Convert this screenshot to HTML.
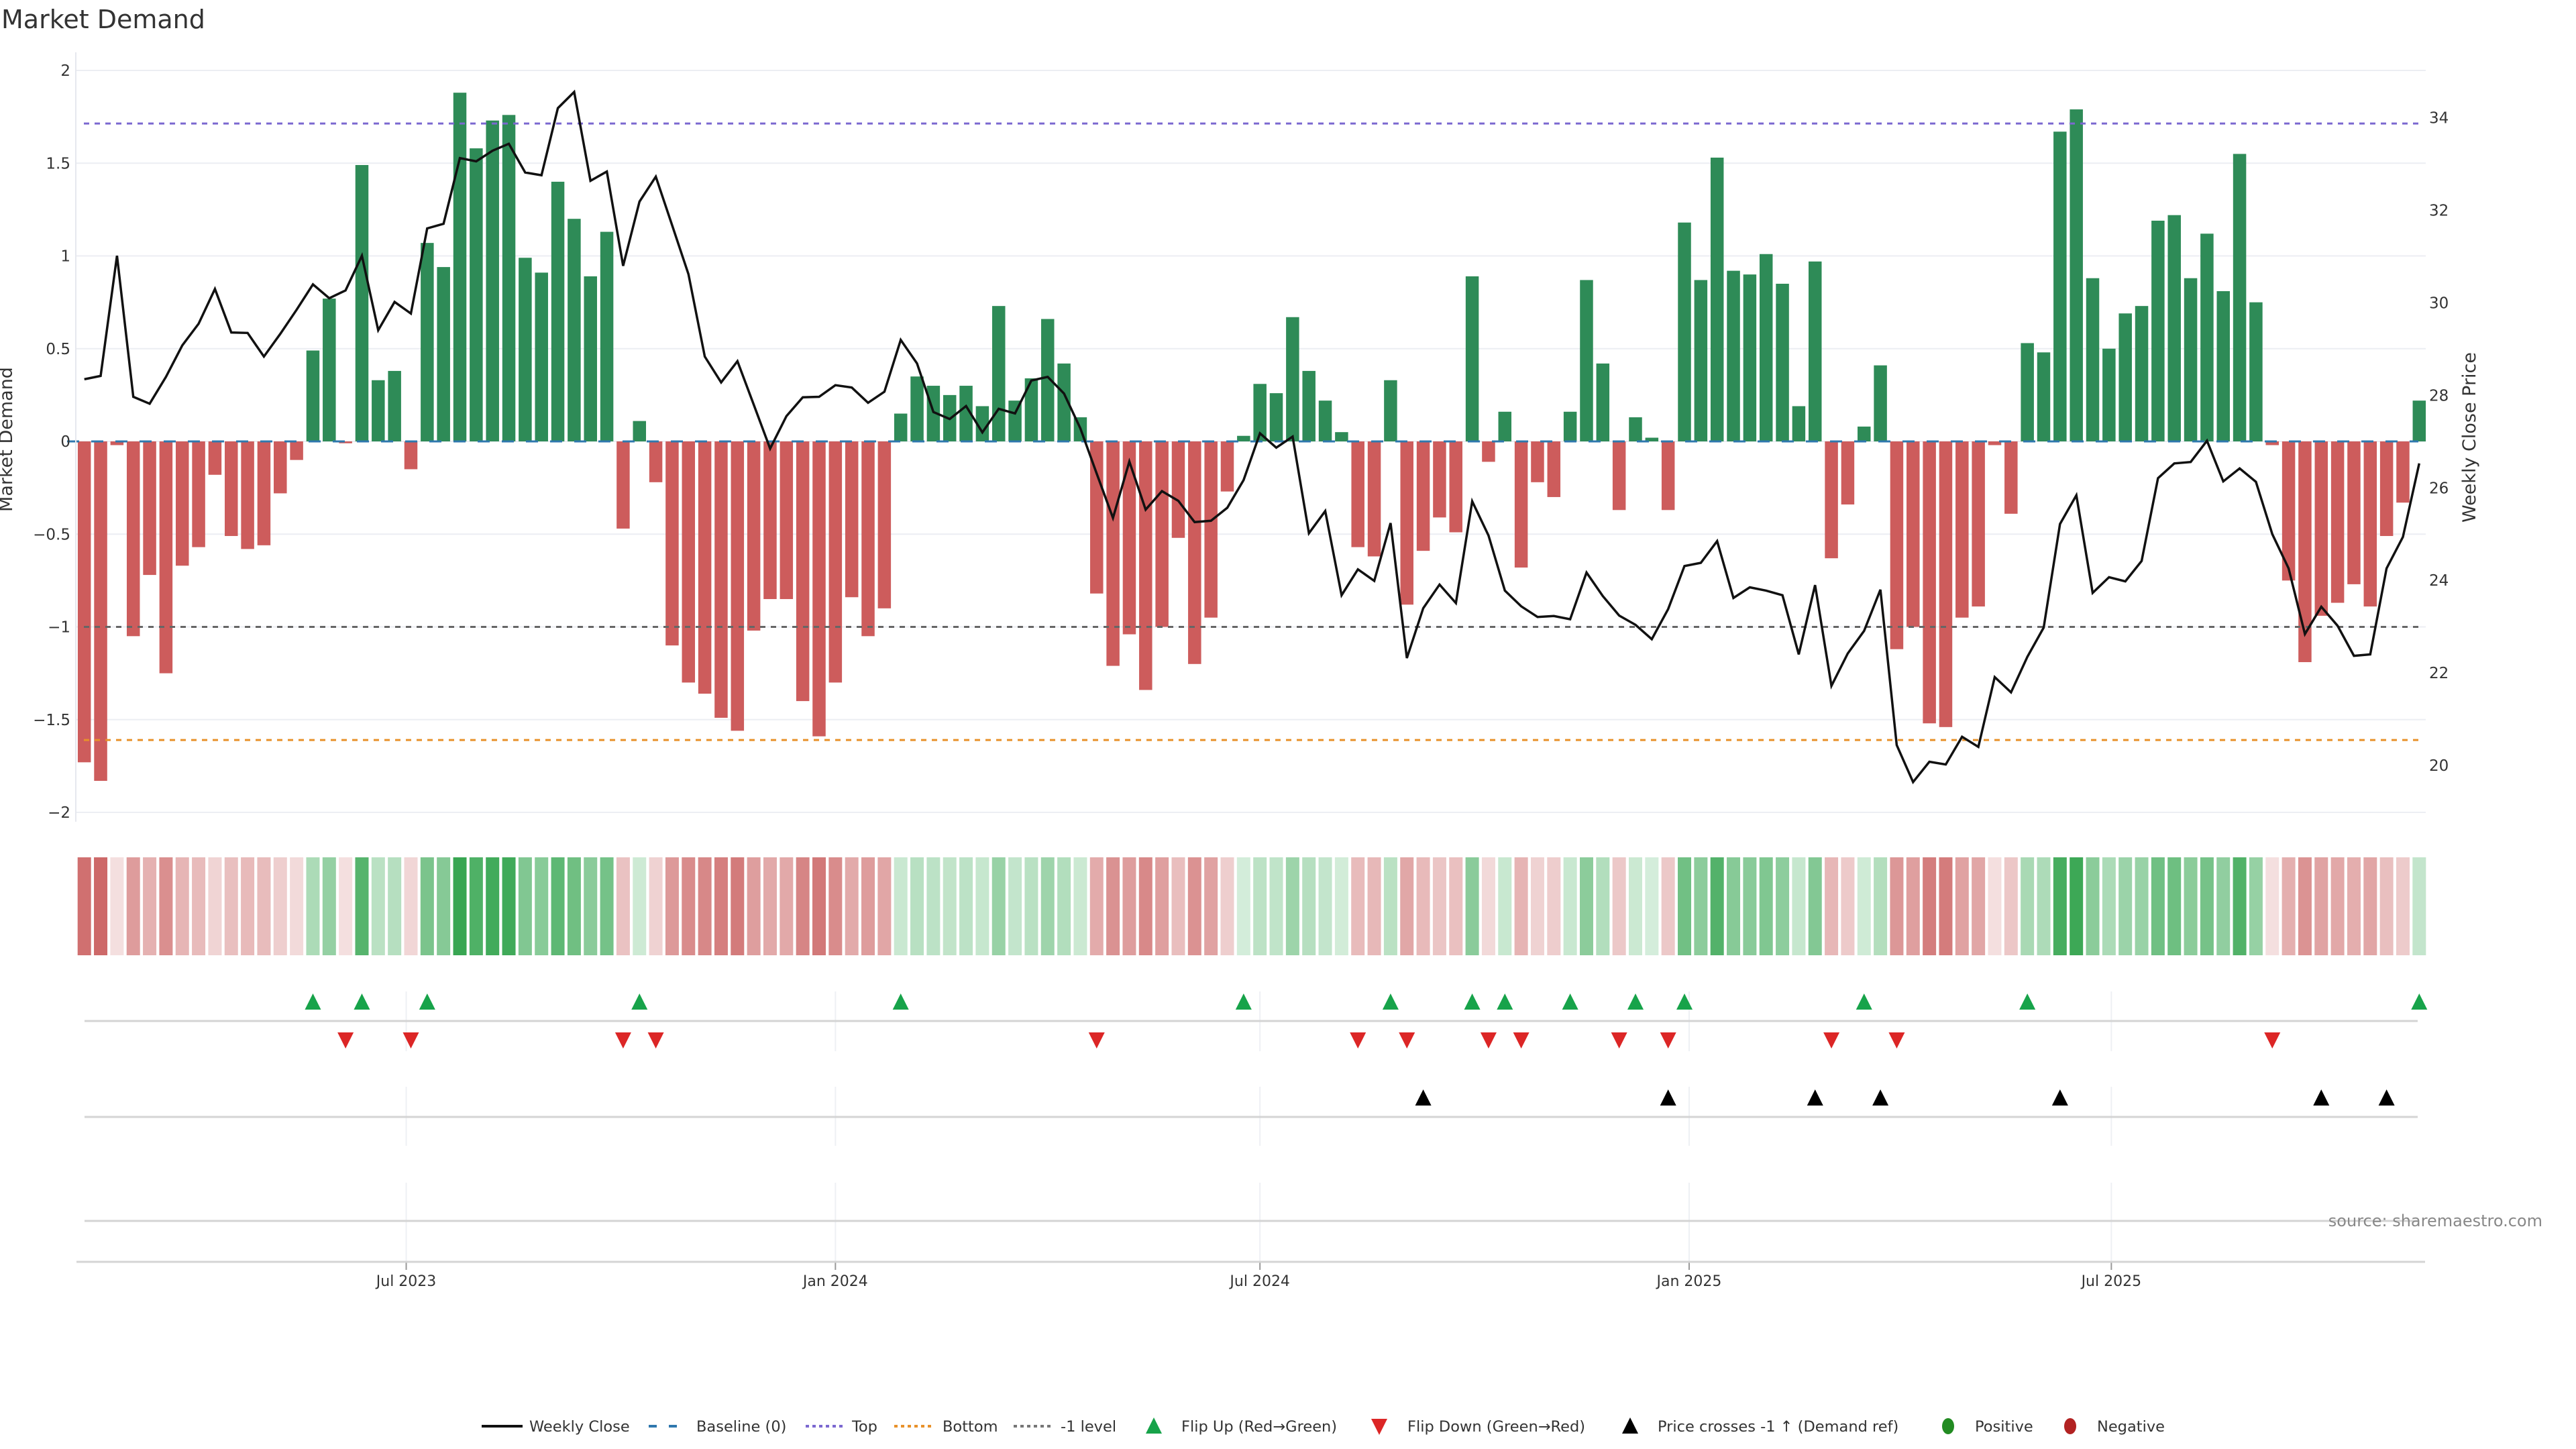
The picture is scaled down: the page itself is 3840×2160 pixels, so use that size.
<!DOCTYPE html>
<html><head><meta charset="utf-8"><title>Market Demand</title>
<style>
html,body{margin:0;padding:0;background:#fff;}
svg{display:block;font-family:"DejaVu Sans","Liberation Sans",sans-serif;}
</style></head>
<body>
<svg id="chart" width="3840" height="2160" viewBox="0 0 3840 2160" xmlns="http://www.w3.org/2000/svg">
<rect x="0" y="0" width="3840" height="2160" fill="#fff"/>
<text x="2" y="42" font-size="38" fill="#333">Market Demand</text>
<g id="grid"></g>
<g id="bars"></g>
<g id="refs"></g>
<g id="line"></g>
<g id="axes"></g>
<g id="strip"></g>
<g id="markers"></g>
<text x="18" y="655" font-size="27" fill="#333" text-anchor="middle" transform="rotate(-90 18 655)">Market Demand</text>
<text x="3690" y="652" font-size="27" fill="#333" text-anchor="middle" transform="rotate(-90 3690 652)">Weekly Close Price</text>
<text x="3790" y="1828" font-size="24" fill="#888" text-anchor="end">source: sharemaestro.com</text>
<g id="legend"></g>
</svg>
<script>
const demand = [-1.73,-1.83,-0.02,-1.05,-0.72,-1.25,-0.67,-0.57,-0.18,-0.51,-0.58,-0.56,-0.28,-0.10,
0.49,0.77,-0.01,1.49,0.33,0.38,-0.15,1.07,0.94,1.88,1.58,1.73,1.76,0.99,0.91,1.40,1.20,0.89,1.13,-0.47,0.11,-0.22,-1.10,-1.30,-1.36,
-1.49,-1.56,-1.02,-0.85,-0.85,-1.40,-1.59,-1.30,-0.84,-1.05,-0.90,0.15,0.35,0.30,0.25,0.30,0.19,0.73,0.22,0.34,0.66,0.42,0.13,-0.82,-1.21,-1.04,-1.34,-1.00,-0.52,-1.20,-0.95,-0.27,0.03,0.31,0.26,0.67,0.38,
0.22,0.05,-0.57,-0.62,0.33,-0.88,-0.59,-0.41,-0.49,0.89,-0.11,0.16,-0.68,-0.22,-0.30,0.16,0.87,0.42,-0.37,0.13,0.02,-0.37,1.18,0.87,1.53,0.92,0.90,1.01,0.85,0.19,0.97,-0.63,-0.34,0.08,0.41,-1.12,-1.00,
-1.52,-1.54,-0.95,-0.89,-0.02,-0.39,0.53,0.48,1.67,1.79,0.88,0.50,0.69,0.73,1.19,1.22,0.88,1.12,0.81,1.55,0.75,-0.02,-0.75,-1.19,-0.94,-0.87,-0.77,-0.89,-0.51,-0.33,0.22];
const price = [28.35,28.42,31.02,27.97,27.82,28.40,29.08,29.55,30.30,29.36,
29.35,28.84,29.33,29.85,30.40,30.10,30.27,31.02,29.41,30.02,
29.77,31.61,31.71,33.13,33.06,33.29,33.44,32.82,32.76,34.21,
34.56,32.64,32.84,30.80,32.19,32.73,31.68,30.62,28.84,
28.28,28.74,27.80,26.85,27.55,27.96,27.97,28.22,28.17,27.84,28.08,
29.20,28.69,27.64,27.49,27.77,27.20,27.71,27.61,28.32,28.40,28.04,27.29,
26.31,25.35,26.57,25.53,25.93,25.72,25.26,25.29,25.57,26.17,27.18,26.87,27.11,25.02,
25.50,23.68,24.24,23.99,25.24,22.32,23.40,23.91,23.51,25.71,24.97,23.78,23.44,23.21,23.23,23.16,24.17,23.66,23.24,23.04,22.73,23.38,24.31,24.38,24.85,23.62,23.85,23.78,23.68,22.40,23.90,21.72,22.42,22.91,23.80,20.44,19.64,
20.08,20.02,20.62,20.40,21.91,21.58,22.35,22.98,25.22,25.84,23.73,24.07,23.98,24.42,26.21,26.53,26.56,27.02,26.14,26.42,26.13,25.00,24.26,22.84,23.43,23.02,22.37,22.40,24.26,24.94,26.53];
const startDate = "2023-02-13";
const leftTicks = [2,1.5,1,0.5,0,-0.5,-1,-1.5,-2];
const leftTickLabels = ["2","1.5","1","0.5","0","−0.5","−1","−1.5","−2"];
const rightTicks = [20,22,24,26,28,30,32,34];
const dateTicks = ["2023-07-01","2024-01-01","2024-07-01","2025-01-01","2025-07-01"];
const dateTickLabels = ["Jul 2023","Jan 2024","Jul 2024","Jan 2025","Jul 2025"];
const topLevel = 1.714, bottomLevel = -1.61, minusLevel = -1;
const priceRef = 23.0;

const NS="http://www.w3.org/2000/svg";
function mk(tag,attrs,parent){const e=document.createElementNS(NS,tag);for(const k in attrs)e.setAttribute(k,attrs[k]);parent.appendChild(e);return e;}
const X0=125.7, STEP=24.34;
function xi(i){return X0+i*STEP;}
const t0=Date.parse(startDate+"T00:00:00Z");
function xDate(s){return X0+(Date.parse(s+"T00:00:00Z")-t0)/(7*86400000)*STEP;}
function yD(v){return 658-v*276.5;}
function yP(p){return 1141-(p-20)*68.95;}
const PL=113, PR=3616;

const grid=document.getElementById('grid');
leftTicks.forEach((t,k)=>{
  const l=mk('line',{x1:PL,x2:PR,y1:yD(t),y2:yD(t),stroke:'#eceef3','stroke-width':2},grid);
  
  
});
const axes=document.getElementById('axes');
const la=mk('line',{x1:PL,x2:PL,y1:78,y2:1225,stroke:'#e6e8ee','stroke-width':2},axes);


leftTicks.forEach((t,k)=>{
  const tx=mk('text',{x:105,y:yD(t)+8,'font-size':23,fill:'#333','text-anchor':'end'},axes);
  tx.textContent=leftTickLabels[k];
  
  
});
rightTicks.forEach(t=>{
  const tx=mk('text',{x:3621,y:yP(t)+8,'font-size':23,fill:'#333'},axes);
  tx.textContent=String(t);
  
  
});

const bars=document.getElementById('bars');
const BW=19.5;
demand.forEach((v,i)=>{
  const y=Math.min(yD(0),yD(v)), h=Math.abs(yD(v)-yD(0));
  const r=mk('rect',{x:xi(i)-BW/2,y:y,width:BW,height:Math.max(h,1),fill:v>=0?'#2e8b57':'#cd5c5c'},bars);
  
  
});

const refs=document.getElementById('refs');
const base=mk('line',{x1:100,x2:3605,y1:yD(0),y2:yD(0),stroke:'#2f78ae','stroke-width':3,'stroke-dasharray':'18 18'},refs);


const tl=mk('line',{x1:125,x2:3605,y1:yD(topLevel),y2:yD(topLevel),stroke:'#7b68d0','stroke-width':3,'stroke-dasharray':'8 8'},refs);


const bl=mk('line',{x1:125,x2:3605,y1:yD(bottomLevel),y2:yD(bottomLevel),stroke:'#e8912a','stroke-width':3,'stroke-dasharray':'8 8'},refs);


const ml=mk('line',{x1:125,x2:3605,y1:yD(minusLevel),y2:yD(minusLevel),stroke:'#666','stroke-width':3,'stroke-dasharray':'8 8'},refs);



const lineG=document.getElementById('line');
const pl=mk('polyline',{points:price.map((p,i)=>xi(i).toFixed(1)+','+yP(p).toFixed(1)).join(' '),fill:'none',stroke:'#111','stroke-width':3.5,'stroke-linejoin':'miter'},lineG);



function mix(a,b,t){return 'rgb('+a.map((c,k)=>Math.round(c+(b[k]-c)*t)).join(',')+')';}
const strip=document.getElementById('strip');
demand.forEach((v,i)=>{
  const t=Math.min(Math.abs(v)/1.85,1);
  const col=v>=0?mix([214,238,220],[56,166,82],t):mix([244,224,224],[205,104,104],t);
  const r=mk('rect',{x:xi(i)-10,y:1278,width:20,height:146,fill:col},strip);
  
  
});

const mg=document.getElementById('markers');
dateTicks.forEach((d,k)=>{
  const x=xDate(d);
  [[1478,1567],[1620,1708],[1763,1880]].forEach(s=>{
    const g=mk('line',{x1:x,x2:x,y1:s[0],y2:s[1],stroke:'#eef0f4','stroke-width':2},mg);
    
    
  });
  const tk=mk('line',{x1:x,x2:x,y1:1881,y2:1893,stroke:'#999','stroke-width':2},mg);
  
  
  const tx=mk('text',{x:x,y:1917,'font-size':22,fill:'#333','text-anchor':'middle'},mg);
  tx.textContent=dateTickLabels[k];
  
  
});
[1522,1665,1820].forEach(y=>{
  const l=mk('line',{x1:126,x2:3604,y1:y,y2:y,stroke:'#d4d4d4','stroke-width':3},mg);
  
  
});
const xa=mk('line',{x1:114,x2:3615,y1:1881,y2:1881,stroke:'#d4d4d4','stroke-width':3},mg);


function tri(x,y,up,fill,name){
  const s=12;
  const pts=up?[[x-s,y+s],[x+s,y+s],[x,y-s]]:[[x-s,y-s],[x+s,y-s],[x,y+s]];
  const p=mk('polygon',{points:pts.map(q=>q.join(',')).join(' '),fill:fill},mg);
  
  
}
for(let i=1;i<demand.length;i++){
  if(demand[i-1]<0&&demand[i]>=0) tri(xi(i),1493,true,'#17a34a','flip-up-marker');
  if(demand[i-1]>=0&&demand[i]<0) tri(xi(i),1551,false,'#dc2626','flip-down-marker');
  if(price[i-1]<priceRef&&price[i]>=priceRef) tri(xi(i),1636,true,'#000','price-cross-marker');
}

const lg=document.getElementById('legend');
const LY=2126;
function ltext(x,s){const t=mk('text',{x:x,y:LY+8,'font-size':22.5,fill:'#333'},lg);t.textContent=s;}
let e;
e=mk('line',{x1:718,x2:779,y1:LY,y2:LY,stroke:'#111','stroke-width':4},lg);


ltext(789,'Weekly Close');
e=mk('line',{x1:967,x2:1022,y1:LY,y2:LY,stroke:'#2f78ae','stroke-width':4,'stroke-dasharray':'12 18'},lg);


ltext(1038,'Baseline (0)');
e=mk('line',{x1:1201,x2:1256,y1:LY,y2:LY,stroke:'#7b68d0','stroke-width':4,'stroke-dasharray':'5 5'},lg);


ltext(1270,'Top');
e=mk('line',{x1:1333,x2:1388,y1:LY,y2:LY,stroke:'#e8912a','stroke-width':4,'stroke-dasharray':'5 5'},lg);


ltext(1405,'Bottom');
e=mk('line',{x1:1511,x2:1566,y1:LY,y2:LY,stroke:'#777','stroke-width':4,'stroke-dasharray':'5 5'},lg);


ltext(1581,'-1 level');
e=mk('polygon',{points:'1708,2137 1732,2137 1720,2113',fill:'#17a34a'},lg);


ltext(1761,'Flip Up (Red→Green)');
e=mk('polygon',{points:'2044,2115 2068,2115 2056,2139',fill:'#dc2626'},lg);


ltext(2098,'Flip Down (Green→Red)');
e=mk('polygon',{points:'2418,2137 2442,2137 2430,2113',fill:'#000'},lg);


ltext(2471,'Price crosses -1 ↑ (Demand ref)');
e=mk('ellipse',{cx:2904,cy:LY,rx:9,ry:12,fill:'#228b22'},lg);


ltext(2944,'Positive');
e=mk('ellipse',{cx:3086,cy:LY,rx:9,ry:12,fill:'#b22222'},lg);


ltext(3126,'Negative');
</script>
</body></html>
